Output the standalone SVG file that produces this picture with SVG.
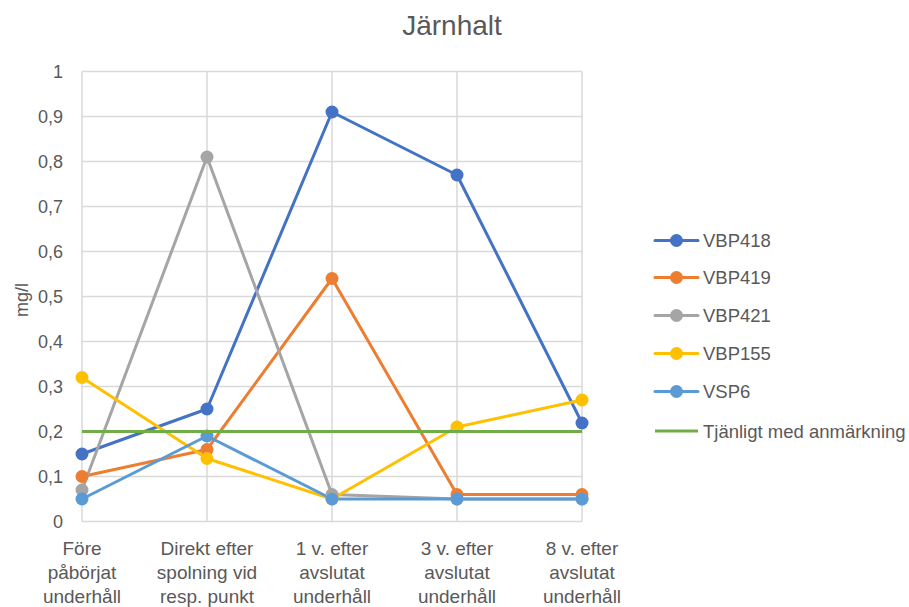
<svg xmlns="http://www.w3.org/2000/svg" width="909" height="607" viewBox="0 0 909 607">
  <style>
    text { font-family: "Liberation Sans", "DejaVu Sans", sans-serif; fill: #595959; }
    .grid { stroke: #d9d9d9; stroke-width: 1.5; fill: none; }
    .tick { font-size: 18px; text-anchor: end; }
    .cat { font-size: 19px; text-anchor: middle; }
    .leg { font-size: 18.5px; }
    .s { fill: none; stroke-width: 3; stroke-linejoin: round; stroke-linecap: round; }
    circle { r: 6.5px; }
    .b1 { stroke: #4472C4; } .f1 { fill: #4472C4; }
    .b2 { stroke: #ED7D31; } .f2 { fill: #ED7D31; }
    .b3 { stroke: #A5A5A5; } .f3 { fill: #A5A5A5; }
    .b4 { stroke: #FFC000; } .f4 { fill: #FFC000; }
    .b5 { stroke: #5B9BD5; } .f5 { fill: #5B9BD5; }
    .g { stroke: #70AD47; stroke-width: 3; fill: none; }
  </style>
  <rect width="909" height="607" fill="#ffffff"/>

  <text x="452" y="35" style="font-size:28px" text-anchor="middle">Järnhalt</text>

  <!-- gridlines -->
  <g id="grid">
    <path class="grid" d="M82 71.5H582M82 116.5H582M82 161.5H582M82 206.5H582M82 251.5H582M82 296.5H582M82 341.5H582M82 386.5H582M82 431.5H582M82 476.5H582M82 521.5H582"/>
    <path class="grid" d="M82 71.5V521.5M207 71.5V521.5M332 71.5V521.5M457 71.5V521.5M582 71.5V521.5"/>
  </g>

  <!-- value axis -->
  <g id="y-axis">
    <text class="tick" x="63" y="78">1</text>
    <text class="tick" x="63" y="123">0,9</text>
    <text class="tick" x="63" y="168">0,8</text>
    <text class="tick" x="63" y="213">0,7</text>
    <text class="tick" x="63" y="258">0,6</text>
    <text class="tick" x="63" y="303">0,5</text>
    <text class="tick" x="63" y="348">0,4</text>
    <text class="tick" x="63" y="393">0,3</text>
    <text class="tick" x="63" y="438">0,2</text>
    <text class="tick" x="63" y="483">0,1</text>
    <text class="tick" x="63" y="528">0</text>
    <text x="28" y="300" style="font-size:18px" text-anchor="middle" transform="rotate(-90 28 300)">mg/l</text>
  </g>

  <!-- category axis -->
  <g id="x-axis">
    <text class="cat" x="82" y="555">Före</text>
    <text class="cat" x="82" y="579">påbörjat</text>
    <text class="cat" x="82" y="603">underhåll</text>
    <text class="cat" x="207" y="555">Direkt efter</text>
    <text class="cat" x="207" y="579">spolning vid</text>
    <text class="cat" x="207" y="603">resp. punkt</text>
    <text class="cat" x="332" y="555">1 v. efter</text>
    <text class="cat" x="332" y="579">avslutat</text>
    <text class="cat" x="332" y="603">underhåll</text>
    <text class="cat" x="457" y="555">3 v. efter</text>
    <text class="cat" x="457" y="579">avslutat</text>
    <text class="cat" x="457" y="603">underhåll</text>
    <text class="cat" x="582" y="555">8 v. efter</text>
    <text class="cat" x="582" y="579">avslutat</text>
    <text class="cat" x="582" y="603">underhåll</text>
  </g>

  <!-- data series -->
  <g id="connectors">
    <polyline class="s b1" points="82,454 207,409 332,112 457,175 582,423"/>
    <polyline class="s b2" points="82,476.5 207,449.5 332,278.5 457,494.5 582,494.5"/>
    <polyline class="s b3" points="82,490 207,157 332,494.5 457,499 582,499"/>
    <polyline class="s b4" points="82,377.5 207,458.5 332,499 457,427 582,400"/>
    <polyline class="s b5" points="82,499 207,436 332,499 457,499 582,499"/>
  </g>

  <g id="VBP418" class="f1">
    <circle cx="82" cy="454" r="6.5"/><circle cx="207" cy="409" r="6.5"/><circle cx="332" cy="112" r="6.5"/><circle cx="457" cy="175" r="6.5"/><circle cx="582" cy="423" r="6.5"/>
  </g>
  <g id="VBP419" class="f2">
    <circle cx="82" cy="476.5" r="6.5"/><circle cx="207" cy="449.5" r="6.5"/><circle cx="332" cy="278.5" r="6.5"/><circle cx="457" cy="494.5" r="6.5"/><circle cx="582" cy="494.5" r="6.5"/>
  </g>
  <g id="VBP421" class="f3">
    <circle cx="82" cy="490" r="6.5"/><circle cx="207" cy="157" r="6.5"/><circle cx="332" cy="494.5" r="6.5"/><circle cx="457" cy="499" r="6.5"/><circle cx="582" cy="499" r="6.5"/>
  </g>
  <g id="VBP155" class="f4">
    <circle cx="82" cy="377.5" r="6.5"/><circle cx="207" cy="458.5" r="6.5"/><circle cx="332" cy="499" r="6.5"/><circle cx="457" cy="427" r="6.5"/><circle cx="582" cy="400" r="6.5"/>
  </g>
  <g id="VSP6" class="f5">
    <circle cx="82" cy="499" r="6.5"/><circle cx="207" cy="436" r="6.5"/><circle cx="332" cy="499" r="6.5"/><circle cx="457" cy="499" r="6.5"/><circle cx="582" cy="499" r="6.5"/>
  </g>
  <g id="limit">
    <line class="g" x1="82" y1="431.5" x2="582" y2="431.5"/>
  </g>

  <!-- legend -->
  <g id="legend">
    <g id="leg-VBP418"><line class="s b1" x1="655" y1="240.5" x2="698" y2="240.5"/><circle class="f1" cx="676.5" cy="240.5" r="6.5"/><text class="leg" x="703" y="247">VBP418</text></g>
    <g id="leg-VBP419"><line class="s b2" x1="655" y1="277.5" x2="698" y2="277.5"/><circle class="f2" cx="676.5" cy="277.5" r="6.5"/><text class="leg" x="703" y="284">VBP419</text></g>
    <g id="leg-VBP421"><line class="s b3" x1="655" y1="315.5" x2="698" y2="315.5"/><circle class="f3" cx="676.5" cy="315.5" r="6.5"/><text class="leg" x="703" y="322">VBP421</text></g>
    <g id="leg-VBP155"><line class="s b4" x1="655" y1="353.5" x2="698" y2="353.5"/><circle class="f4" cx="676.5" cy="353.5" r="6.5"/><text class="leg" x="703" y="360">VBP155</text></g>
    <g id="leg-VSP6"><line class="s b5" x1="655" y1="391.5" x2="698" y2="391.5"/><circle class="f5" cx="676.5" cy="391.5" r="6.5"/><text class="leg" x="703" y="398">VSP6</text></g>
    <g id="leg-limit"><line class="g" x1="655" y1="431" x2="698" y2="431"/><text class="leg" x="703" y="437.5">Tjänligt med anmärkning</text></g>
  </g>
</svg>
